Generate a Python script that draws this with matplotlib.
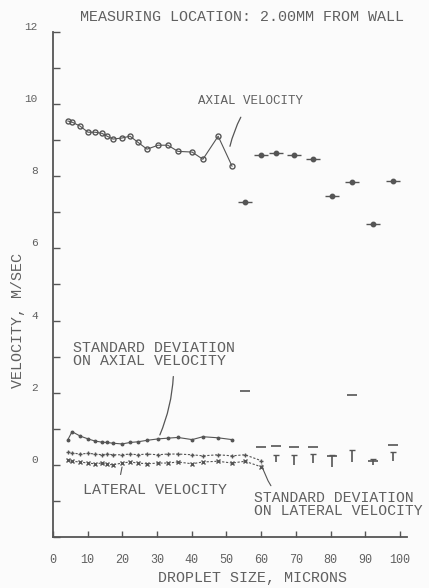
import numpy as np
import matplotlib
matplotlib.use("Agg")
import matplotlib.pyplot as plt
import matplotlib.transforms as mtransforms

# droplet sizes (microns) of the connected run of points
size_line = [4.3, 5.5, 7.8, 10.1, 12.1, 14.1, 15.6, 17.3, 19.9, 22.2,
             24.5, 27.1, 30.3, 33.1, 36.0, 40.1, 43.2, 47.6, 51.6]
axial_line = [9.53, 9.50, 9.39, 9.22, 9.22, 9.19, 9.11, 9.03, 9.06, 9.11,
              8.94, 8.75, 8.86, 8.86, 8.69, 8.67, 8.47, 9.11, 8.28]
std_axial_line = [0.70, 0.92, 0.80, 0.72, 0.66, 0.63, 0.62, 0.60, 0.58, 0.62,
                  0.64, 0.68, 0.72, 0.74, 0.76, 0.70, 0.78, 0.75, 0.70]

# lateral runs go a little further
lat_size = [4.3, 5.5, 7.8, 10.1, 12.1, 14.1, 15.6, 17.3, 19.9, 22.2, 24.5,
            27.1, 30.3, 33.1, 36.0, 40.1, 43.2, 47.6, 51.6, 55.3, 59.9]
std_lateral_line = [0.36, 0.33, 0.30, 0.32, 0.30, 0.28, 0.30, 0.28, 0.28, 0.30, 0.28,
                    0.30, 0.28, 0.30, 0.30, 0.28, 0.25, 0.28, 0.25, 0.28, 0.12]
lateral_line = [0.14, 0.10, 0.08, 0.05, 0.03, 0.05, 0.02, 0.00, 0.05, 0.08, 0.05,
                0.03, 0.05, 0.05, 0.08, 0.03, 0.08, 0.10, 0.05, 0.10, -0.05]

# scattered large droplet points
far_size = [55.3, 59.9, 64.3, 69.5, 74.9, 80.4, 86.2, 92.2, 98.0]
far_axial = [7.28, 8.58, 8.64, 8.58, 8.47, 7.44, 7.83, 6.69, 7.86]
far_std_axial = [2.06, 0.50, 0.52, 0.50, 0.50, 0.25, 1.94, 0.10, 0.55]

far_lat_size = [64.3, 69.5, 74.9, 80.4, 86.2, 92.2, 98.0]
far_std_lateral = [0.28, 0.28, 0.30, 0.28, 0.42, 0.15, 0.35]
far_lateral = [0.08, 0.00, 0.05, -0.05, 0.08, 0.00, 0.12]

y_ticks = list(range(-2, 13))
x_ticks = [0, 10, 20, 30, 40, 50, 60, 70, 80, 90, 100]

ink = "#555555"
txt = "#606060"
font = "Liberation Mono"

fig = plt.figure(figsize=(4.29, 5.88), dpi=100, facecolor="#fbfbfb")
ax = fig.add_axes([0.1235, 0.0867, 0.825, 0.859])
ax.set_facecolor("#fbfbfb")

# axial velocity
ax.plot(size_line, axial_line, color=ink, lw=0.8, marker="o", ms=3.6,
        mfc="none", mec=ink, mew=1.0)
ax.plot(far_size, far_axial, ls="none", marker="o", ms=3.2, color=ink)
ax.plot(far_size, far_axial, ls="none", marker="_", ms=10, mew=1.0, color=ink)

# standard deviation on axial velocity
ax.plot(size_line, std_axial_line, color=ink, lw=0.8, marker="o", ms=1.8)
ax.plot(far_size, far_std_axial, ls="none", marker="_", ms=7, mew=1.2, color=ink)

# lateral velocity and its standard deviation
ax.plot(lat_size, std_lateral_line, color=ink, lw=0.8, ls=(0, (2, 1.5)),
        marker="+", ms=3)
ax.plot(lat_size, lateral_line, color=ink, lw=0.8, ls=(0, (2, 1.5)),
        marker="x", ms=2.5)
ax.vlines(far_lat_size, far_lateral, far_std_lateral, color=ink, lw=1.2)
ax.plot(far_lat_size, far_std_lateral, ls="none", marker="_", ms=5, color=ink)

ax.set_xlim(0, 102)
ax.set_ylim(-2, 12)
for s in ["top", "right"]:
    ax.spines[s].set_visible(False)
for s in ["left", "bottom"]:
    ax.spines[s].set_color(ink)
    ax.spines[s].set_linewidth(1.3)

ax.set_yticks(y_ticks)
ax.set_yticklabels([str(v) if v >= 0 and v % 2 == 0 else "" for v in y_ticks])
ax.set_xticks(x_ticks)
ax.set_xticklabels([str(v) for v in x_ticks])
ax.tick_params(axis="y", direction="in", length=5, width=1, color=ink,
               labelsize=8, labelcolor=txt, pad=11)
ax.tick_params(axis="x", direction="in", length=4, width=1, color=ink,
               labelsize=8.5, labelcolor=txt, pad=12)
shift = mtransforms.ScaledTranslation(0, 0.06, fig.dpi_scale_trans)
for lab in ax.get_yticklabels():
    lab.set_transform(lab.get_transform() + shift)
    lab.set_family(font)
for lab in ax.get_xticklabels():
    lab.set_family(font)

fig.text(242 / 429, 1 - 17 / 588, "MEASURING LOCATION: 2.00MM FROM WALL",
         ha="center", va="center", fontsize=10.8, color=txt, family=font)
fig.text(18 / 429, 1 - 320 / 588, "VELOCITY, M/SEC", rotation=90,
         ha="center", va="center", fontsize=10.8, color=txt, family=font)
fig.text(253 / 429, 1 - 578 / 588, "DROPLET SIZE, MICRONS",
         ha="center", va="center", fontsize=10.8, color=txt, family=font)

# callouts
ax.annotate("AXIAL VELOCITY", xy=(51.0, 8.83), xytext=(57.0, 10.08),
            ha="center", va="center", fontsize=9, color=txt, family=font,
            arrowprops=dict(arrowstyle="-", color=ink, lw=0.9,
                            connectionstyle="arc3,rad=0.1",
                            shrinkA=6, shrinkB=0))
ax.annotate("STANDARD DEVIATION\nON AXIAL VELOCITY", xy=(30.8, 0.83),
            xytext=(5.8, 3.06), ha="left", va="center", fontsize=10.8,
            color=txt, family=font, linespacing=0.95,
            arrowprops=dict(arrowstyle="-", color=ink, lw=0.9,
                            connectionstyle="arc3,rad=-0.1",
                            shrinkA=4, shrinkB=0, relpos=(0.62, 0.0)))
ax.annotate("LATERAL VELOCITY", xy=(19.9, -0.06), xytext=(29.4, -0.69),
            ha="center", va="center", fontsize=10.8, color=txt, family=font,
            arrowprops=dict(arrowstyle="-", color=ink, lw=0.8,
                            shrinkA=4, shrinkB=0, relpos=(0.25, 1.0)))
ax.annotate("STANDARD DEVIATION\nON LATERAL VELOCITY", xy=(60.2, 0.0),
            xytext=(58.0, -1.10), ha="left", va="center", fontsize=10.6,
            color=txt, family=font, linespacing=0.95,
            arrowprops=dict(arrowstyle="-", color=ink, lw=0.8,
                            connectionstyle="arc3,rad=-0.1",
                            shrinkA=2, shrinkB=0, relpos=(0.12, 1.0)))

fig.savefig("out.png", dpi=100, facecolor=fig.get_facecolor())
